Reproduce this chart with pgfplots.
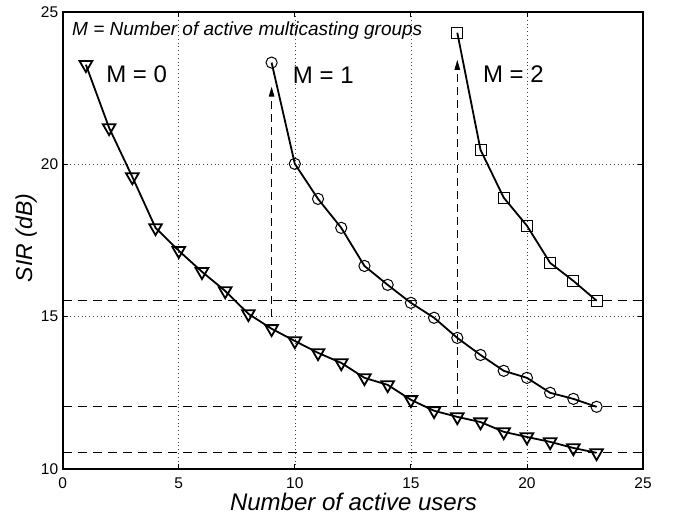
\documentclass[border=0pt]{standalone}
\usepackage{fontspec}
\setmainfont{Liberation Sans}
\usepackage{pgfplots}
\pgfplotsset{compat=1.18}
\usetikzlibrary{arrows.meta}

\tikzset{
  curve/.style={black, line width=1.8pt, mark options={solid, line width=1pt}},
  refline/.style={black, line width=1.1pt, dash pattern=on 9pt off 6pt},
  uparrow/.style={black, line width=1.1pt, dash pattern=on 8pt off 5pt, -{Triangle[length=10pt,width=5.5pt]}}
}

\begin{document}
\begin{tikzpicture}
\path[use as bounding box] (-62.7pt,-50pt) rectangle (615.3pt,469pt);
\begin{axis}[
  scale only axis,
  width=580.3pt, height=457.3pt,
  xmin=0, xmax=25, ymin=10, ymax=25,
  xtick={0,5,...,25}, ytick={10,15,20,25},
  grid=major,
  grid style={black!75, line width=0.6pt, dash pattern=on 0.8pt off 3pt},
  axis line style={line width=1.7pt},
  tick align=inside, major tick length=5pt,
  tick style={line width=0.8pt, black},
  /pgf/number format/assume math mode=true,
  tick label style={font=\fontsize{15.5}{17}\selectfont},
  xticklabel style={yshift=-5pt},
  yticklabel style={xshift=-1pt},
  xlabel={\itshape Number of active users},
  ylabel={\itshape SIR (dB)},
  xlabel style={font=\fontsize{24}{26}\selectfont, at={(axis description cs:0.501,-0.0918)}, anchor=base},
  ylabel style={font=\fontsize{23}{25}\selectfont, at={(axis description cs:-0.063,0.505)}, anchor=center},
]

% reference levels
\addplot[refline] coordinates {(0,15.52) (25,15.52)};
\addplot[refline] coordinates {(0,12.04) (25,12.04)};
\addplot[refline] coordinates {(0,10.53) (25,10.53)};

\addplot[uparrow] coordinates {(9,15.0) (9,22.54)};
\addplot[uparrow] coordinates {(17,12.04) (17,23.42)};

% M = 0
\addplot[curve, mark=triangle, mark size=7.3pt, mark options={rotate=180}] coordinates {
 (1,23.26) (2,21.19) (3,19.58) (4,17.91) (5,17.16) (6,16.47) (7,15.84) (8,15.09)
 (9,14.60) (10,14.20) (11,13.81) (12,13.48) (13,12.99) (14,12.76) (15,12.27)
 (16,11.91) (17,11.71) (18,11.54) (19,11.22) (20,11.05) (21,10.89) (22,10.69) (23,10.53)
};
% M = 1
\addplot[curve, mark=o, mark size=5.6pt] coordinates {
 (9,23.33) (10,20.01) (11,18.86) (12,17.91) (13,16.66) (14,16.04) (15,15.45)
 (16,14.96) (17,14.30) (18,13.74) (19,13.22) (20,12.99) (21,12.50) (22,12.30) (23,12.04)
};
% M = 2
\addplot[curve, mark=square, mark size=5.5pt] coordinates {
 (17,24.31) (18,20.47) (19,18.90) (20,17.98) (21,16.76) (22,16.17) (23,15.52)
};

\node[anchor=base west, inner sep=0, font=\fontsize{19}{21}\selectfont\itshape] at (axis cs:0.40,24.21) {M = Number of active multicasting groups};
\node[anchor=base west, inner sep=0, font=\fontsize{24}{26}\selectfont] at (axis cs:1.87,22.67) {M = 0};
\node[anchor=base west, inner sep=0, font=\fontsize{24}{26}\selectfont] at (axis cs:9.91,22.66) {M = 1};
\node[anchor=base west, inner sep=0, font=\fontsize{24}{26}\selectfont] at (axis cs:18.1,22.68) {M = 2};
\end{axis}
\end{tikzpicture}
\end{document}
